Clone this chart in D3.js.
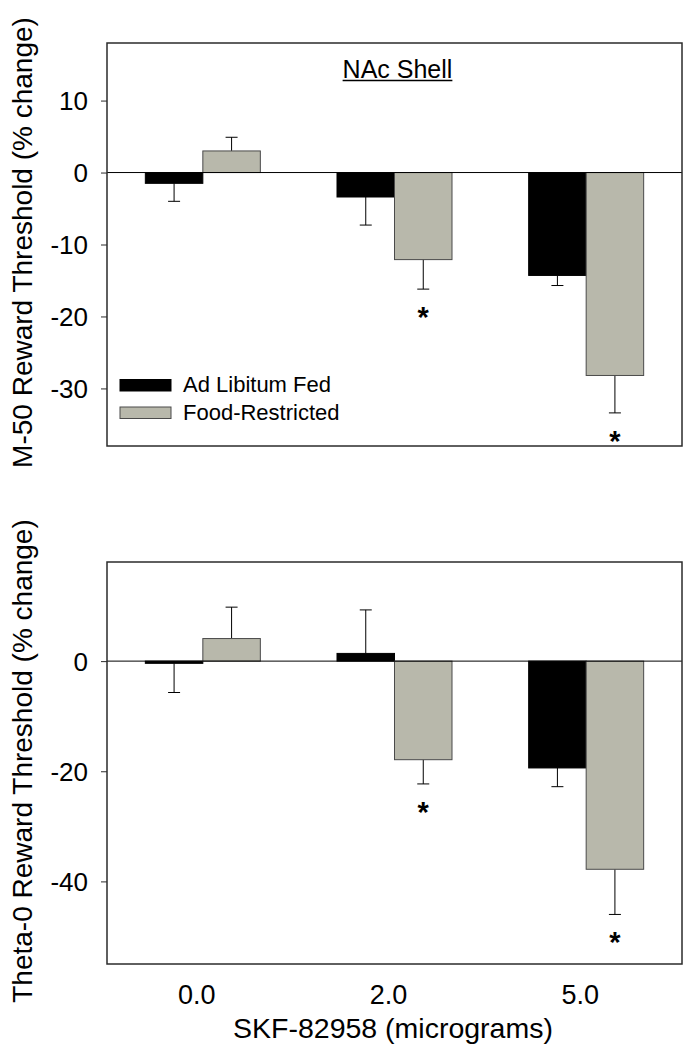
<!DOCTYPE html>
<html>
<head>
<meta charset="utf-8">
<script src="https://cdn.jsdelivr.net/npm/d3@7"></script>
<style>
  body { margin: 0; background: #fff; }
  svg text { font-family: "Liberation Sans", Arial, Helvetica, sans-serif; fill: #000; }
</style>
</head>
<body>
<div id="chart"></div>
<script>
// Data (percent change from baseline, mean and SEM)
var doses = ["0.0", "2.0", "5.0"];
var seriesNames = ["Ad Libitum Fed", "Food-Restricted"];

var m50Fed = [-1.5, -3.4, -14.3];
var m50FedErr = [2.5, 3.9, 1.4];
var m50Restricted = [3.0, -12.1, -28.2];
var m50RestrictedErr = [1.9, 4.1, 5.2];
var m50Sig = [false, true, true];
var m50Ticks = [10, 0, -10, -20, -30];

var theta0Fed = [-0.4, 1.4, -19.4];
var theta0FedErr = [5.3, 7.9, 3.4];
var theta0Restricted = [4.1, -17.9, -37.8];
var theta0RestrictedErr = [5.7, 4.4, 8.2];
var theta0Sig = [false, true, true];
var theta0Ticks = [0, -20, -40];

var COLORS = { fed: "#000000", restricted: "#b8b8ab", outline: "#4a4a4a", frame: "#2b2b2b" };

var width = 697;
var height = 1050;

var svg = d3.select("#chart").append("svg").attr("width", width).attr("height", height);

var xScale = d3.scaleBand().domain(doses).range([107, 682]).padding(0);
var barWidth = xScale.bandwidth() * 0.3;

function makePanel(config) {
  var yScale = d3.scaleLinear().domain(config.domain).range([config.bottom, config.top]);
  var g = svg.append("g");

  var rows = doses.map(function (d, i) {
    return [
      { dose: d, key: "fed", value: config.fed[i], err: config.fedErr[i], offset: -barWidth, sig: false },
      { dose: d, key: "restricted", value: config.restricted[i], err: config.restrictedErr[i], offset: 0, sig: config.sig[i] },
    ];
  }).reduce((acc, r) => acc.concat(r), []);

  // Error bars, drawn away from zero
  var errG = g.append("g").attr("class", "errors");
  rows.forEach(function (d) {
    var cx = xScale(d.dose) + xScale.bandwidth() / 2 + d.offset + barWidth / 2;
    var end = d.value >= 0 ? d.value + d.err : d.value - d.err;
    errG.append("line")
      .attr("x1", cx).attr("x2", cx)
      .attr("y1", yScale(d.value)).attr("y2", yScale(end))
      .attr("stroke", "#000").attr("stroke-width", 1);
    errG.append("line")
      .attr("x1", cx - 6).attr("x2", cx + 6)
      .attr("y1", yScale(end)).attr("y2", yScale(end))
      .attr("stroke", "#000").attr("stroke-width", 1);
    if (d.sig) {
      errG.append("text")
        .attr("x", cx)
        .attr("y", yScale(end) + 38)
        .attr("text-anchor", "middle")
        .style("font-size", "29px")
        .style("font-weight", 700)
        .text("*");
    }
  });

  // Bars
  g.append("g").attr("class", "bars")
    .selectAll("rect")
    .data(rows)
    .enter()
    .append("rect")
    .attr("x", (d) => xScale(d.dose) + xScale.bandwidth() / 2 + d.offset)
    .attr("y", (d) => yScale(Math.max(0, d.value)))
    .attr("width", barWidth)
    .attr("height", (d) => Math.abs(yScale(0) - yScale(d.value)))
    .style("fill", (d) => COLORS[d.key])
    .style("stroke", (d) => (d.key == "fed" ? "#000" : COLORS.outline))
    .style("stroke-width", 1);

  // Zero line
  g.append("line")
    .attr("x1", 107).attr("x2", 682)
    .attr("y1", yScale(0)).attr("y2", yScale(0))
    .attr("stroke", "#000").attr("stroke-width", 1);

  // Y axis
  var yAxis = d3.axisLeft(yScale).tickValues(config.ticks).tickSize(6).tickPadding(13).tickFormat(d3.format("d"));
  var axisG = g.append("g").attr("transform", "translate(107,0)").call(yAxis);
  axisG.select(".domain").remove();
  axisG.selectAll(".tick line").attr("stroke", COLORS.frame).attr("stroke-width", 1);
  axisG.selectAll(".tick text")
    .attr("font-family", null)
    .style("font-size", "26px")
    .attr("dy", "0.36em")
    .text((d) => (d < 0 ? "-" + Math.abs(d) : d));

  // Frame
  g.append("rect")
    .attr("x", 107).attr("y", config.top)
    .attr("width", 682 - 107).attr("height", config.bottom - config.top)
    .style("fill", "none").style("stroke", COLORS.frame).style("stroke-width", 1.5);

  // Y title
  g.append("text")
    .attr("transform", `translate(32,${(config.top + config.bottom) / 2 - 2}) rotate(-90)`)
    .attr("text-anchor", "middle")
    .style("font-size", "28px")
    .text(config.title);

  return { g: g, yScale: yScale };
}

var topPanel = makePanel({
  domain: [-38, 18], top: 43, bottom: 446,
  fed: m50Fed, fedErr: m50FedErr, restricted: m50Restricted, restrictedErr: m50RestrictedErr,
  sig: m50Sig, ticks: m50Ticks, title: "M-50 Reward Threshold (% change)",
});

var bottomPanel = makePanel({
  domain: [-55, 18], top: 562, bottom: 964,
  fed: theta0Fed, fedErr: theta0FedErr, restricted: theta0Restricted, restrictedErr: theta0RestrictedErr,
  sig: theta0Sig, ticks: theta0Ticks, title: "Theta-0 Reward Threshold (% change)",
});

// Panel title, underlined
var title = topPanel.g.append("text")
  .attr("x", xScale("2.0") + xScale.bandwidth() / 2 + 3)
  .attr("y", 78)
  .attr("text-anchor", "middle")
  .style("font-size", "25px")
  .text("NAc Shell");
var tb = title.node().getBBox();
topPanel.g.append("line")
  .attr("x1", tb.x).attr("x2", tb.x + tb.width)
  .attr("y1", 80.5).attr("y2", 80.5)
  .attr("stroke", "#000").attr("stroke-width", 1.5);

// Legend
var legend = topPanel.g.append("g").attr("class", "key")
  .selectAll("g")
  .data(seriesNames)
  .enter()
  .append("g")
  .attr("transform", (d, i) => `translate(120,${379.5 + i * 27.5})`);

legend.append("rect")
  .attr("width", 51).attr("height", 11.5)
  .style("fill", (d, i) => (i ? COLORS.restricted : COLORS.fed))
  .style("stroke", (d, i) => (i ? COLORS.outline : "#000"))
  .style("stroke-width", 1);
legend.append("text")
  .attr("x", 63).attr("y", 12.5)
  .style("font-size", "22px")
  .text((d) => d);

// X axis labels under the bottom panel
var xAxis = d3.axisBottom(xScale).tickSize(0).tickPadding(21);
var xG = svg.append("g").attr("transform", "translate(-6,964)").call(xAxis);
xG.select(".domain").remove();
xG.selectAll(".tick text").attr("font-family", null).style("font-size", "27px").attr("dy", "0.71em");

svg.append("text")
  .attr("x", 393)
  .attr("y", 1038)
  .attr("text-anchor", "middle")
  .style("font-size", "28.5px")
  .text("SKF-82958 (micrograms)");
</script>
</body>
</html>
